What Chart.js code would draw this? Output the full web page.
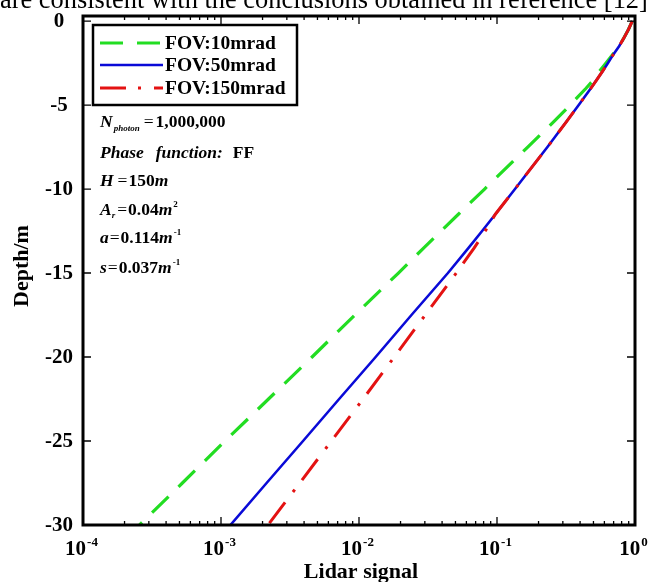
<!DOCTYPE html>
<html>
<head>
<meta charset="utf-8">
<script src="https://cdn.jsdelivr.net/npm/chart.js@4.4.1/dist/chart.umd.min.js"></script>
<style>
  html, body { margin: 0; padding: 0; background: #fff; overflow: hidden; }
  #wrap { position: relative; width: 649px; height: 582px; }
  #caption {
    position: absolute; left: 0; top: -14px; z-index: 2;
    font-family: "Liberation Serif", "Times New Roman", serif;
    font-size: 26.4px; line-height: 26px; white-space: nowrap; color: #000;
  }
</style>
</head>
<body>
<div id="wrap">
  <div id="caption">are consistent with the conclusions obtained in reference [12]</div>
  <canvas id="lidarChart" width="649" height="582"></canvas>
</div>
<script>
// depth below the surface (m)
const depths = [0, -0.5, -1, -1.5, -2, -2.5, -3, -3.5, -4, -5, -6, -7.5, -10, -11.5, -12.5, -13.5, -15, -17.5, -20, -22.5, -25, -27.5, -30];

// normalised lidar return for each receiver field of view
const fov10 = [0.955, 0.897, 0.832, 0.767, 0.687, 0.617, 0.552, 0.501, 0.442, 0.339, 0.257, 0.167, 0.0813, 0.0525, 0.0394, 0.0295, 0.0193, 0.00933, 0.00457, 0.00221, 0.00107, 0.000525, 0.000257];
const fov50 = [0.955, 0.897, 0.832, 0.767, 0.695, 0.637, 0.581, 0.528, 0.479, 0.391, 0.318, 0.232, 0.135, 0.0973, 0.0780, 0.0622, 0.0441, 0.0240, 0.0132, 0.00718, 0.00393, 0.00214, 0.00117];
const fov150 = [0.955, 0.897, 0.832, 0.767, 0.695, 0.637, 0.581, 0.528, 0.479, 0.391, 0.318, 0.232, 0.135, 0.0973, 0.0822, 0.0684, 0.0507, 0.0302, 0.0180, 0.0107, 0.00631, 0.00372, 0.00219];

const seriesNames = ['FOV:10mrad', 'FOV:50mrad', 'FOV:150mrad'];
const xExponents = [-4, -3, -2, -1, 0];
const yTicks = [0, -5, -10, -15, -20, -25, -30];

const SERIF = '"Liberation Serif", "Times New Roman", serif';

function toPoints(values) {
    return values.map((v, i) => ({ x: v, y: depths[i] }));
}

// writes a run of text pieces (italic, sub/superscript) left to right
function drawRich(ctx, x, y, parts) {
    parts.forEach(p => {
        const size = p.size || 17.5;
        ctx.font = (p.italic ? 'italic ' : '') + (p.light ? '' : 'bold ') + size + 'px ' + SERIF;
        ctx.fillText(p.t, x, y + (p.dy || 0));
        x += ctx.measureText(p.t).width + (p.gap || 0);
    });
}

const axesPlugin = {
    id: 'axesPlugin',
    afterDatasetsDraw(chart) {
        const ctx = chart.ctx;
        const { left, right, top, bottom } = chart.chartArea;
        const xs = chart.scales.x;
        const ys = chart.scales.y;
        ctx.save();
        ctx.fillStyle = '#000';
        ctx.strokeStyle = '#000';
        ctx.setLineDash([]);

        // x ticks on bottom and top, pointing inward
        ctx.lineWidth = 1.3;
        ctx.beginPath();
        xExponents.forEach((e, i) => {
            const base = Math.pow(10, e);
            const px = xs.getPixelForValue(base);
            ctx.moveTo(px, bottom); ctx.lineTo(px, bottom - 8);
            ctx.moveTo(px, top); ctx.lineTo(px, top + 8);
            if (i < xExponents.length - 1) {
                for (let m = 2; m <= 9; m++) {
                    const mx = xs.getPixelForValue(m * base);
                    ctx.moveTo(mx, bottom); ctx.lineTo(mx, bottom - 4);
                    ctx.moveTo(mx, top); ctx.lineTo(mx, top + 4);
                }
            }
        });
        // y ticks on left and right
        yTicks.forEach(v => {
            const py = ys.getPixelForValue(v);
            ctx.moveTo(left, py); ctx.lineTo(left + 8, py);
            ctx.moveTo(right, py); ctx.lineTo(right - 8, py);
        });
        ctx.stroke();

        // frame
        ctx.lineWidth = 3;
        ctx.strokeRect(left, top, right - left, bottom - top);

        // y tick labels
        ctx.font = 'bold 21px ' + SERIF;
        ctx.textAlign = 'center';
        ctx.textBaseline = 'middle';
        yTicks.forEach(v => {
            ctx.fillText(String(v), 59, ys.getPixelForValue(v) + 1);
        });

        // x tick labels as 10 with a raised exponent
        ctx.textBaseline = 'alphabetic';
        ctx.textAlign = 'left';
        xExponents.forEach(e => {
            const px = xs.getPixelForValue(Math.pow(10, e));
            ctx.font = 'bold 21px ' + SERIF;
            const wBase = ctx.measureText('10').width;
            ctx.font = 'bold 13px ' + SERIF;
            const sup = String(e);
            const wSup = ctx.measureText(sup).width;
            const x0 = px - 2 - (wBase + wSup) / 2;
            ctx.font = 'bold 21px ' + SERIF;
            ctx.fillText('10', x0, 555);
            ctx.font = 'bold 13px ' + SERIF;
            ctx.fillText(sup, x0 + wBase + 1, 546);
        });

        // axis titles
        ctx.font = 'bold 22px ' + SERIF;
        ctx.textAlign = 'center';
        ctx.fillText('Lidar signal', 361, 578);
        ctx.save();
        ctx.translate(28, 266);
        ctx.rotate(-Math.PI / 2);
        ctx.fillText('Depth/m', 0, 0);
        ctx.restore();

        // legend box
        ctx.lineWidth = 2.5;
        ctx.strokeRect(93, 25, 204, 80);
        const rows = [43, 65, 88];
        chart.data.datasets.forEach((ds, i) => {
            ctx.save();
            ctx.strokeStyle = ds.borderColor;
            ctx.lineWidth = ds.borderWidth;
            ctx.setLineDash(ds.borderDash || []);
            ctx.beginPath();
            ctx.moveTo(100, rows[i]);
            ctx.lineTo(163, rows[i]);
            ctx.stroke();
            ctx.restore();
            ctx.font = 'bold 19.5px ' + SERIF;
            ctx.textAlign = 'left';
            ctx.textBaseline = 'middle';
            ctx.fillText(ds.label, 165, rows[i] + 1);
        });

        // simulation settings
        ctx.textAlign = 'left';
        ctx.textBaseline = 'alphabetic';
        drawRich(ctx, 100, 127, [
            { t: 'N', italic: true, gap: 1 },
            { t: 'photon', italic: true, size: 9, dy: 4, gap: 4 },
            { t: '=', light: true, gap: 2 },
            { t: '1,000,000' }
        ]);
        drawRich(ctx, 100, 158, [
            { t: 'Phase', italic: true, gap: 12 },
            { t: 'function:', italic: true, gap: 10 },
            { t: 'FF' }
        ]);
        drawRich(ctx, 100, 186, [
            { t: 'H', italic: true, gap: 4 },
            { t: '=', light: true, gap: 1 },
            { t: '150' },
            { t: 'm', italic: true }
        ]);
        drawRich(ctx, 100, 215, [
            { t: 'A', italic: true },
            { t: 'r', italic: true, size: 9, dy: 3, gap: 2 },
            { t: '=', light: true, gap: 1 },
            { t: '0.04' },
            { t: 'm', italic: true, gap: 1 },
            { t: '2', size: 9, dy: -8 }
        ]);
        drawRich(ctx, 100, 243, [
            { t: 'a', italic: true, gap: 1 },
            { t: '=', light: true, gap: 1 },
            { t: '0.114' },
            { t: 'm', italic: true, gap: 1 },
            { t: '-1', size: 9, dy: -8 }
        ]);
        drawRich(ctx, 100, 273, [
            { t: 's', italic: true, gap: 1 },
            { t: '=', light: true, gap: 1 },
            { t: '0.037' },
            { t: 'm', italic: true, gap: 1 },
            { t: '-1', size: 9, dy: -8 }
        ]);
        ctx.restore();
    }
};

const ctx = document.getElementById('lidarChart').getContext('2d');
const lidarChart = new Chart(ctx, {
    type: 'scatter',
    data: {
        datasets: [{
            label: seriesNames[0],
            data: toPoints(fov10),
            borderColor: 'rgb(34, 221, 34)',
            borderWidth: 3.2,
            borderDash: [23, 14],
            order: 3
        }, {
            label: seriesNames[1],
            data: toPoints(fov50),
            borderColor: 'rgb(10, 10, 215)',
            borderWidth: 2.6,
            order: 2
        }, {
            label: seriesNames[2],
            data: toPoints(fov150),
            borderColor: 'rgb(228, 18, 18)',
            borderWidth: 3,
            borderDash: [26, 12, 3, 13],
            order: 1
        }]
    },
    options: {
        responsive: false,
        animation: false,
        showLine: true,
        layout: {
            padding: { left: 83, right: 14, top: 16, bottom: 57 }
        },
        elements: {
            point: { radius: 0, hoverRadius: 0 },
            line: { tension: 0, fill: false, borderCapStyle: 'butt' }
        },
        scales: {
            x: { type: 'logarithmic', min: 1e-4, max: 1, display: false },
            y: { type: 'linear', min: -30, max: 0.3, display: false }
        },
        plugins: {
            legend: { display: false },
            tooltip: { enabled: false }
        }
    },
    plugins: [axesPlugin]
});
</script>
</body>
</html>
